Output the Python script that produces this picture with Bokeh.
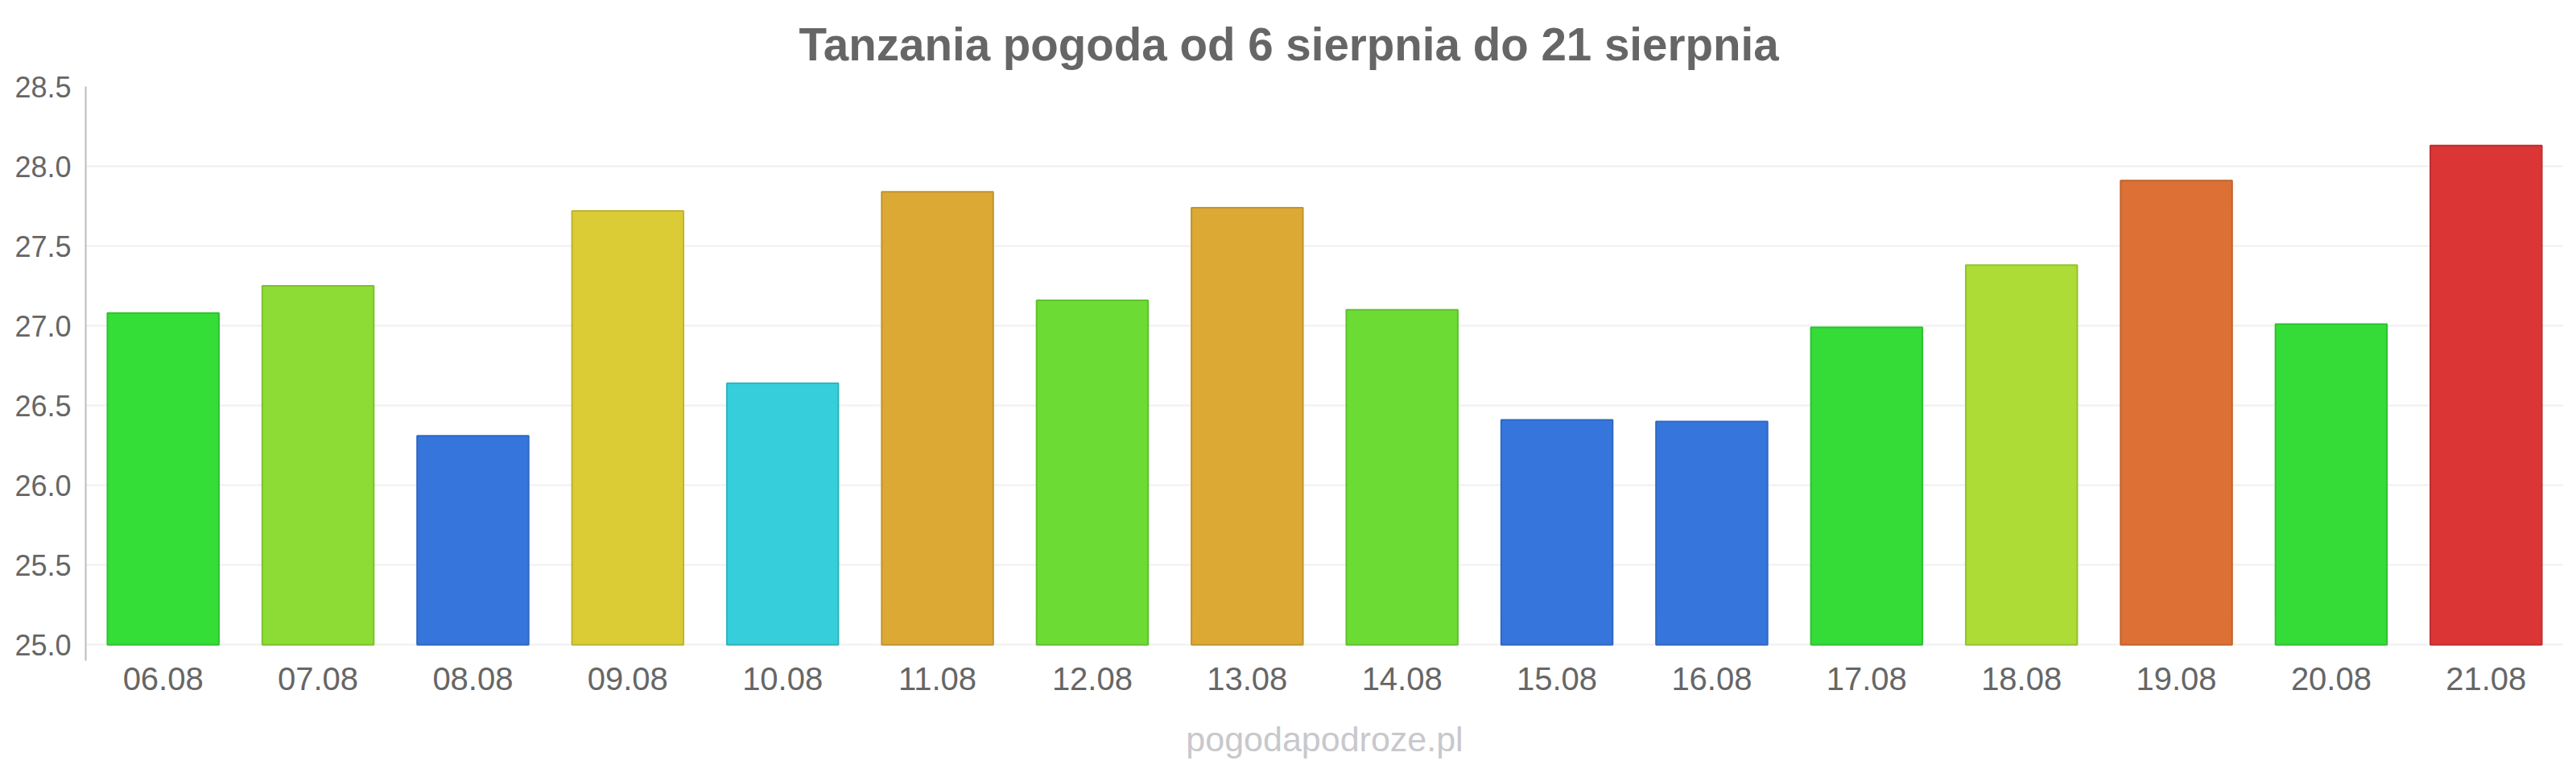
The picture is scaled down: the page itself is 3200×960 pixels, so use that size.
from bokeh.plotting import figure
from bokeh.models import Range1d, FactorRange, FixedTicker, PrintfTickFormatter, Title, ColumnDataSource
from bokeh.embed import file_html
from bokeh.resources import INLINE

# ---- data ----
dates = ["06.08", "07.08", "08.08", "09.08", "10.08", "11.08", "12.08", "13.08",
         "14.08", "15.08", "16.08", "17.08", "18.08", "19.08", "20.08", "21.08"]
temps = [27.08, 27.25, 26.31, 27.72, 26.64, 27.84, 27.16, 27.74,
         27.10, 26.41, 26.40, 26.99, 27.38, 27.91, 27.01, 28.13]
y_ticks = [25.0, 25.5, 26.0, 26.5, 27.0, 27.5, 28.0, 28.5]
title_text = "Tanzania pogoda od 6 sierpnia do 21 sierpnia"
watermark_text = "pogodapodroze.pl"

# ---- styles ----
fills = ["#35dd37", "#8cdc35", "#3676dc", "#dbcc35", "#36cedb", "#dca935", "#6cdc35", "#dca935",
         "#6cdc35", "#3676dc", "#3676dc", "#35dc38", "#acdc35", "#dd7035", "#35dc38", "#db3535"]


def darker(c, f=0.88):
    r, g, b = int(c[1:3], 16), int(c[3:5], 16), int(c[5:7], 16)
    return "#%02x%02x%02x" % (int(r * f), int(g * f), int(b * f))


borders = [darker(c) for c in fills]

FONT = "Liberation Sans"

p = figure(width=3184, height=944, output_backend="svg", toolbar_location=None,
           x_range=FactorRange(*dates, range_padding=0),
           y_range=Range1d(24.9, 28.5),
           min_border_left=106, min_border_right=0, min_border_top=106, min_border_bottom=121)
p.title = None
p.outline_line_color = None
p.background_fill_color = "white"
p.border_fill_color = "white"

src = ColumnDataSource(dict(x=dates, top=temps, fill=fills, line=borders))
p.vbar(x="x", top="top", bottom=25.0, width=0.72, source=src,
       fill_color="fill", line_color="line", line_width=2)

# y axis
p.yaxis.ticker = FixedTicker(ticks=y_ticks)
p.yaxis.formatter = PrintfTickFormatter(format="%.1f")
p.yaxis.axis_line_color = "#bbbbbb"
p.yaxis.axis_line_width = 2
p.yaxis.major_tick_line_color = None
p.yaxis.minor_tick_line_color = None
p.yaxis.major_tick_out = 0
p.yaxis.major_tick_in = 0
p.yaxis.major_label_standoff = 18
p.yaxis.major_label_text_font = FONT
p.yaxis.major_label_text_font_size = "36px"
p.yaxis.major_label_text_color = "#666666"

# x axis (watermark as the axis label below the tick labels)
p.xaxis.axis_line_color = None
p.xaxis.major_tick_line_color = None
p.xaxis.minor_tick_line_color = None
p.xaxis.major_tick_out = 0
p.xaxis.major_tick_in = 0
p.xaxis.major_label_standoff = 8
p.xaxis.major_label_text_font = FONT
p.xaxis.major_label_text_font_size = "40px"
p.xaxis.major_label_text_color = "#666666"
p.xaxis.axis_label = watermark_text
p.xaxis.axis_label_standoff = 34
p.xaxis.axis_label_text_font = FONT
p.xaxis.axis_label_text_font_size = "43px"
p.xaxis.axis_label_text_font_style = "normal"
p.xaxis.axis_label_text_color = "#c8c8cc"

# grid
p.xgrid.grid_line_color = None
p.ygrid.ticker = FixedTicker(ticks=y_ticks)
p.ygrid.grid_line_color = "#f0f0f0"
p.ygrid.grid_line_width = 2

# title (left-aligned with an offset so that it is centred on the canvas)
t = Title(text=title_text, align="left", text_font=FONT, text_font_size="56.5px",
          text_font_style="bold", text_color="#666666", standoff=42, offset=886)
p.add_layout(t, "above")

open("out.html", "w").write(file_html(p, INLINE))
